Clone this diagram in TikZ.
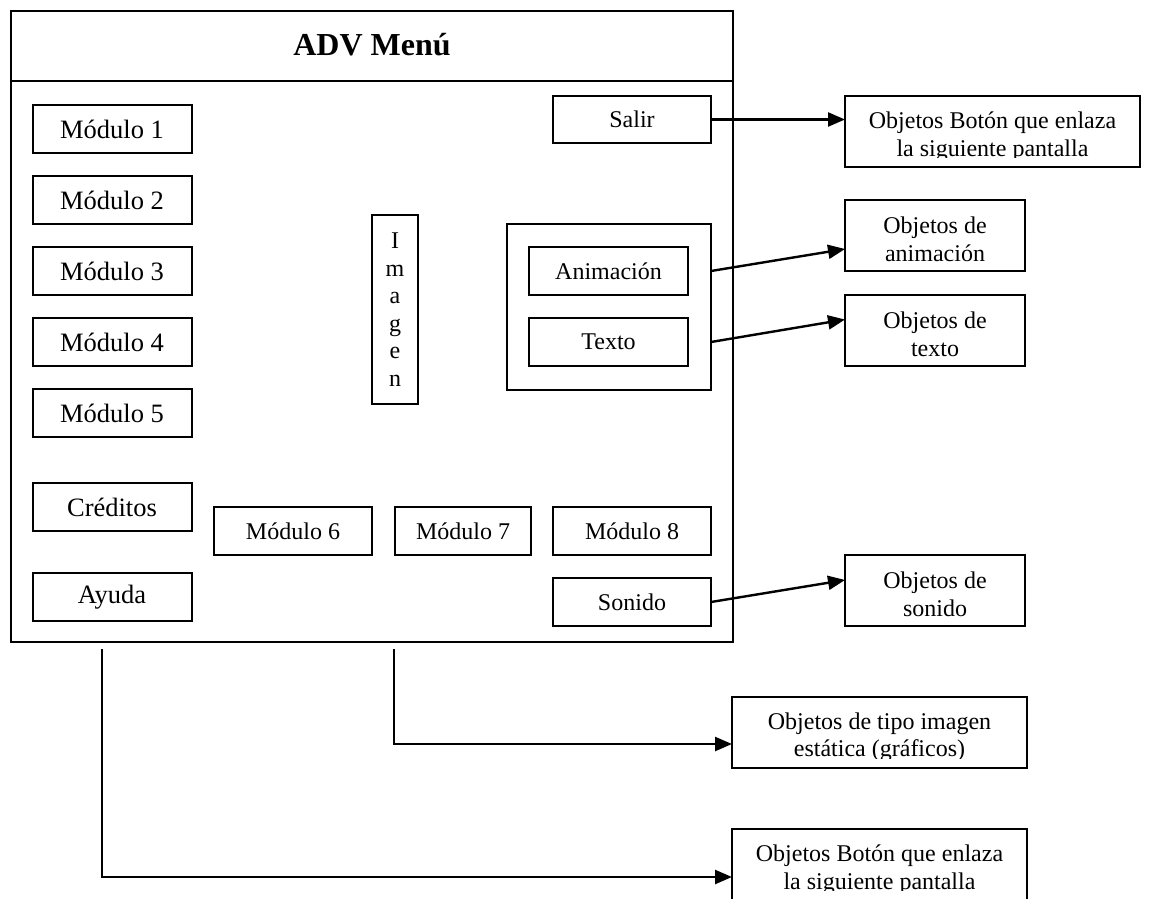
\documentclass[tikz,border=0pt]{standalone}
\usepackage{fontspec}
\setmainfont{Liberation Serif}
\usetikzlibrary{arrows.meta,calc}

\begin{document}
\begin{tikzpicture}[x=1pt,y=-1pt,
  box/.style={draw, line width=2pt, rectangle, inner sep=0pt, outer sep=0pt,
    font=\fontsize{24}{27.5}\selectfont, align=center},
  menubox/.style={box, minimum width=159, minimum height=48},
  leftbox/.style={menubox, font=\fontsize{26.5}{30}\selectfont},
  objbox/.style={box, minimum width=180, minimum height=71},
  widebox/.style={box, minimum width=295, minimum height=71},
  objtext/.style={inner sep=0pt, align=center, font=\fontsize{24}{27.5}\selectfont},
  link/.style={line width=2.4pt, -{Triangle[length=17pt,width=14pt]}}]

\useasboundingbox (0,0) rectangle (1149,898);

% main menu frame with its title band
\node[box, minimum width=722.5, minimum height=631] (frame) at (372,326.5) {};
\draw[line width=2pt] (frame.west |- 0,81) -- (frame.east |- 0,81);
\node[font=\bfseries\fontsize{32}{35}\selectfont] (title) at (372,45) {ADV Menú};

% left column of buttons
\node[leftbox] (m1) at (112,129) {Módulo 1};
\node[leftbox] (m2) at (112,200) {Módulo 2};
\node[leftbox] (m3) at (112,271) {Módulo 3};
\node[leftbox] (m4) at (112,342) {Módulo 4};
\node[leftbox] (m5) at (112,413) {Módulo 5};
\node[leftbox] (cred) at (112,507) {Créditos};
\node[leftbox] (ayuda) at (112,597) {Ayuda};

% bottom row of modules
\node[menubox, minimum width=158] (m6) at (293,531) {Módulo 6};
\node[menubox, minimum width=136] (m7) at (463,531) {Módulo 7};
\node[menubox, minimum width=158] (m8) at (632,531) {Módulo 8};

% right column
\node[menubox, minimum width=158, minimum height=47] (salir) at (632,119.5) {Salir};
\node[menubox, minimum width=158] (sonido) at (632,602) {Sonido};

% vertical image placeholder
\node[box, minimum width=46, minimum height=189] (imagen) at (395,309.5) {I\\m\\a\\g\\e\\n};

% animation / text group
\node[box, minimum width=204, minimum height=166] (grupo) at (609,307) {};
\node[menubox] (anim) at (608.5,271) {Animación};
\node[menubox] (texto) at (608.5,342) {Texto};

% object descriptions
\node[widebox] (objBoton1) at (992.5,131.5) {};
\begin{scope}
  \clip (objBoton1.north west) rectangle ($(objBoton1.south east)+(0,-10)$);
  \node[objtext] (objBoton1t) at ($(objBoton1.center)+(0,5)$) {Objetos Botón que enlaza\\la siguiente pantalla};
\end{scope}

\node[objbox] (objAnim) at (935,235.5) {};
\node[objtext] (objAnimt) at ($(objAnim.center)+(0,4)$) {Objetos de\\animación};

\node[objbox] (objTexto) at (935,330.5) {};
\node[objtext] (objTextot) at ($(objTexto.center)+(0,4)$) {Objetos de\\texto};

\node[objbox] (objSonido) at (935,590.5) {};
\node[objtext] (objSonidot) at ($(objSonido.center)+(0,4)$) {Objetos de\\sonido};

\node[widebox] (objImg) at (879.5,732.5) {};
\begin{scope}
  \clip (objImg.north west) rectangle ($(objImg.south east)+(0,-10)$);
  \node[objtext] (objImgt) at ($(objImg.center)+(0,5)$) {Objetos de tipo imagen\\estática (gráficos)};
\end{scope}

\node[widebox] (objBoton2) at (879.5,864.5) {};
\begin{scope}
  \clip (objBoton2.north west) rectangle ($(objBoton2.south east)+(0,-10)$);
  \node[objtext] (objBoton2t) at ($(objBoton2.center)+(0,5)$) {Objetos Botón que enlaza\\la siguiente pantalla};
\end{scope}

% connectors
\draw[link] (salir.east) -- (salir.east -| objBoton1.west);
\draw[link] (grupo.east |- anim.center) -- ($(objAnim.west)+(0,13.5)$);
\draw[link] (grupo.east |- texto.center) -- ($(objTexto.west)+(0,-11)$);
\draw[link] (sonido.east) -- ($(sonido.east -| objSonido.west)+(0,-22)$);

\coordinate (imgTail) at (394,649);
\coordinate (btnTail) at (102,649);
\draw[link] (imgTail) |- ($(objImg.west)+(0,11.5)$);
\draw[link] (btnTail) |- ($(objBoton2.west)+(0,12.5)$);

\end{tikzpicture}
\end{document}
